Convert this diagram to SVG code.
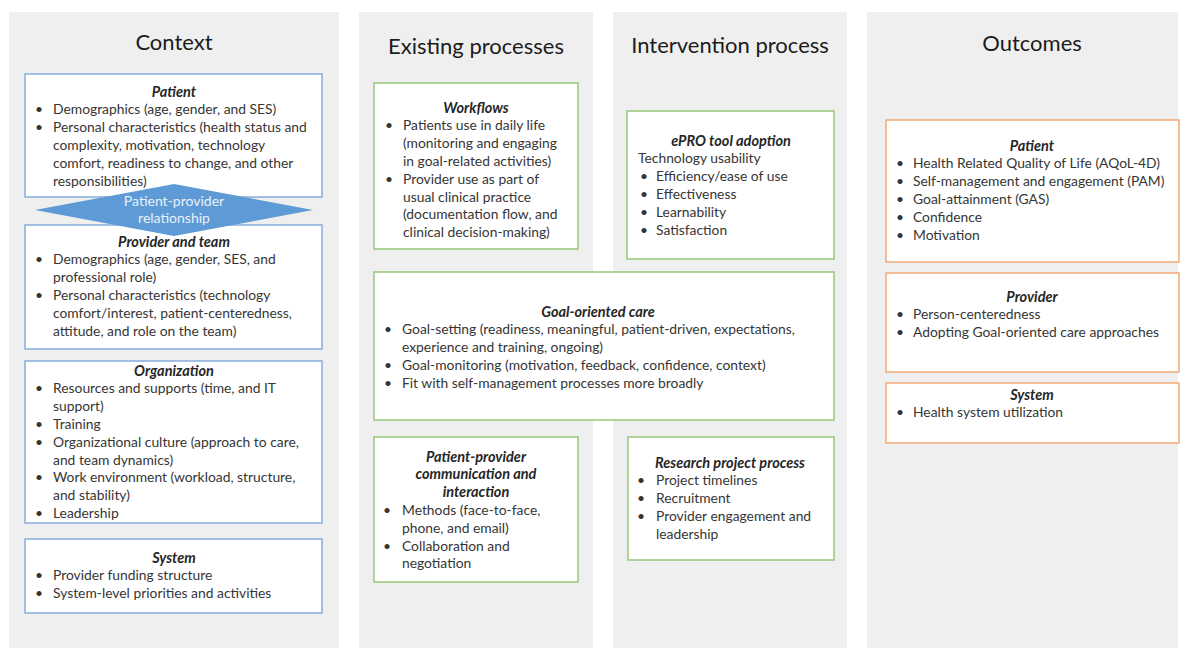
<svg xmlns="http://www.w3.org/2000/svg" width="1182" height="648" viewBox="0 0 1182 648">
  <style>
    .panel { fill: #efefef; }
    .box { fill: #ffffff; stroke-width: 1.4; }
    .blue { stroke: #7fa7dc; }
    .green { stroke: #92c473; }
    .orange { stroke: #f2a46c; }
    text { font-family: Lato, "Liberation Sans", sans-serif; }
    .hd { font-size: 22px; fill: #1c1c1c; text-anchor: middle; }
    .ttl { font-size: 14.5px; font-weight: bold; font-style: italic; fill: #262626; text-anchor: middle; }
    .tx { font-size: 13.85px; fill: #363636; }
    .dm { fill: #5e9bd6; }
    .dmt { font-size: 14px; fill: #e8f0fa; text-anchor: middle; }
  </style>

  <!-- column backgrounds -->
  <rect class="panel" x="9" y="12" width="330" height="636"/>
  <rect class="panel" x="359" y="12" width="234" height="636"/>
  <rect class="panel" x="613" y="12" width="234" height="636"/>
  <rect class="panel" x="867" y="12" width="311" height="636"/>

  <!-- column headings -->
  <text class="hd" x="174" y="50">Context</text>
  <text class="hd" x="476" y="54">Existing processes</text>
  <text class="hd" x="730" y="53">Intervention process</text>
  <text class="hd" x="1032" y="51">Outcomes</text>

  <!-- Context column -->
  <g id="ctx-patient">
    <rect class="box blue" x="25" y="74" width="297" height="123"/>
    <text class="ttl" x="174" y="96.5">Patient</text>
    <text class="tx" x="35" y="114.3">•</text>
    <text class="tx" x="53" y="114.3">Demographics (age, gender, and SES)</text>
    <text class="tx" x="35" y="132.1">•</text>
    <text class="tx" x="53" y="132.1">Personal characteristics (health status and</text>
    <text class="tx" x="53" y="149.9">complexity, motivation, technology</text>
    <text class="tx" x="53" y="167.7">comfort, readiness to change, and other</text>
    <text class="tx" x="53" y="185.5">responsibilities)</text>
  </g>

  <g id="ctx-provider">
    <rect class="box blue" x="25" y="225" width="297" height="124"/>
    <text class="ttl" x="174" y="246.5">Provider and team</text>
    <text class="tx" x="35" y="264.3">•</text>
    <text class="tx" x="53" y="264.3">Demographics (age, gender, SES, and</text>
    <text class="tx" x="53" y="282.1">professional role)</text>
    <text class="tx" x="35" y="299.9">•</text>
    <text class="tx" x="53" y="299.9">Personal characteristics (technology</text>
    <text class="tx" x="53" y="317.7">comfort/interest, patient-centeredness,</text>
    <text class="tx" x="53" y="335.5">attitude, and role on the team)</text>
  </g>

  <g id="ctx-relationship">
    <polygon class="dm" points="35,210 174,184 313,210 174,236"/>
    <text class="dmt" x="174" y="206">Patient-provider</text>
    <text class="dmt" x="174" y="223">relationship</text>
  </g>

  <g id="ctx-organization">
    <rect class="box blue" x="25" y="361" width="297" height="162"/>
    <text class="ttl" x="174" y="375.5">Organization</text>
    <text class="tx" x="35" y="393.3">•</text>
    <text class="tx" x="53" y="393.3">Resources and supports (time, and IT</text>
    <text class="tx" x="53" y="411.1">support)</text>
    <text class="tx" x="35" y="428.9">•</text>
    <text class="tx" x="53" y="428.9">Training</text>
    <text class="tx" x="35" y="446.7">•</text>
    <text class="tx" x="53" y="446.7">Organizational culture (approach to care,</text>
    <text class="tx" x="53" y="464.5">and team dynamics)</text>
    <text class="tx" x="35" y="482.3">•</text>
    <text class="tx" x="53" y="482.3">Work environment (workload, structure,</text>
    <text class="tx" x="53" y="500.1">and stability)</text>
    <text class="tx" x="35" y="517.9">•</text>
    <text class="tx" x="53" y="517.9">Leadership</text>
  </g>

  <g id="ctx-system">
    <rect class="box blue" x="25" y="539" width="297" height="74"/>
    <text class="ttl" x="174" y="562.5">System</text>
    <text class="tx" x="35" y="580.3">•</text>
    <text class="tx" x="53" y="580.3">Provider funding structure</text>
    <text class="tx" x="35" y="598.1">•</text>
    <text class="tx" x="53" y="598.1">System-level priorities and activities</text>
  </g>

  <!-- Existing processes column -->
  <g id="ex-workflows">
    <rect class="box green" x="374" y="83" width="204" height="166"/>
    <text class="ttl" x="476" y="112.5">Workflows</text>
    <text class="tx" x="385" y="130.3">•</text>
    <text class="tx" x="403" y="130.3">Patients use in daily life</text>
    <text class="tx" x="403" y="148.1">(monitoring and engaging</text>
    <text class="tx" x="403" y="165.9">in goal-related activities)</text>
    <text class="tx" x="385" y="183.7">•</text>
    <text class="tx" x="403" y="183.7">Provider use as part of</text>
    <text class="tx" x="403" y="201.5">usual clinical practice</text>
    <text class="tx" x="403" y="219.3">(documentation flow, and</text>
    <text class="tx" x="403" y="237.1">clinical decision-making)</text>
  </g>

  <g id="goal-oriented-care">
    <rect class="box green" x="374" y="272" width="460" height="148"/>
    <text class="ttl" x="598" y="316.5">Goal-oriented care</text>
    <text class="tx" x="384" y="334.3">•</text>
    <text class="tx" x="402" y="334.3">Goal-setting (readiness, meaningful, patient-driven, expectations,</text>
    <text class="tx" x="402" y="352.1">experience and training, ongoing)</text>
    <text class="tx" x="384" y="369.9">•</text>
    <text class="tx" x="402" y="369.9">Goal-monitoring (motivation, feedback, confidence, context)</text>
    <text class="tx" x="384" y="387.7">•</text>
    <text class="tx" x="402" y="387.7">Fit with self-management processes more broadly</text>
  </g>

  <g id="ex-communication">
    <rect class="box green" x="374" y="437" width="204" height="145"/>
    <text class="ttl" x="476" y="461.5">Patient-provider</text>
    <text class="ttl" x="476" y="479.3">communication and</text>
    <text class="ttl" x="476" y="497.1">interaction</text>
    <text class="tx" x="383" y="514.9">•</text>
    <text class="tx" x="402" y="514.9">Methods (face-to-face,</text>
    <text class="tx" x="402" y="532.7">phone, and email)</text>
    <text class="tx" x="383" y="550.5">•</text>
    <text class="tx" x="402" y="550.5">Collaboration and</text>
    <text class="tx" x="402" y="568.3">negotiation</text>
  </g>

  <!-- Intervention process column -->
  <g id="int-epro">
    <rect class="box green" x="627" y="111" width="207" height="148"/>
    <text class="ttl" x="731" y="145.5">ePRO tool adoption</text>
    <text class="tx" x="638" y="163.3">Technology usability</text>
    <text class="tx" x="640" y="181.1">•</text>
    <text class="tx" x="656" y="181.1">Efficiency/ease of use</text>
    <text class="tx" x="640" y="198.9">•</text>
    <text class="tx" x="656" y="198.9">Effectiveness</text>
    <text class="tx" x="640" y="216.7">•</text>
    <text class="tx" x="656" y="216.7">Learnability</text>
    <text class="tx" x="640" y="234.5">•</text>
    <text class="tx" x="656" y="234.5">Satisfaction</text>
  </g>

  <g id="int-research">
    <rect class="box green" x="628" y="437" width="206" height="123"/>
    <text class="ttl" x="730" y="467.5">Research project process</text>
    <text class="tx" x="637" y="485.3">•</text>
    <text class="tx" x="656" y="485.3">Project timelines</text>
    <text class="tx" x="637" y="503.1">•</text>
    <text class="tx" x="656" y="503.1">Recruitment</text>
    <text class="tx" x="637" y="520.9">•</text>
    <text class="tx" x="656" y="520.9">Provider engagement and</text>
    <text class="tx" x="656" y="538.7">leadership</text>
  </g>

  <!-- Outcomes column -->
  <g id="out-patient">
    <rect class="box orange" x="886" y="120" width="293" height="142"/>
    <text class="ttl" x="1032" y="150.5">Patient</text>
    <text class="tx" x="896" y="168.3">•</text>
    <text class="tx" x="913" y="168.3">Health Related Quality of Life (AQoL-4D)</text>
    <text class="tx" x="896" y="186.1">•</text>
    <text class="tx" x="913" y="186.1">Self-management and engagement (PAM)</text>
    <text class="tx" x="896" y="203.9">•</text>
    <text class="tx" x="913" y="203.9">Goal-attainment (GAS)</text>
    <text class="tx" x="896" y="221.7">•</text>
    <text class="tx" x="913" y="221.7">Confidence</text>
    <text class="tx" x="896" y="239.5">•</text>
    <text class="tx" x="913" y="239.5">Motivation</text>
  </g>

  <g id="out-provider">
    <rect class="box orange" x="886" y="273" width="293" height="99"/>
    <text class="ttl" x="1032" y="301.5">Provider</text>
    <text class="tx" x="896" y="319.3">•</text>
    <text class="tx" x="913" y="319.3">Person-centeredness</text>
    <text class="tx" x="896" y="337.1">•</text>
    <text class="tx" x="913" y="337.1">Adopting Goal-oriented care approaches</text>
  </g>

  <g id="out-system">
    <rect class="box orange" x="886" y="383" width="293" height="60"/>
    <text class="ttl" x="1032" y="399.5">System</text>
    <text class="tx" x="896" y="417.3">•</text>
    <text class="tx" x="913" y="417.3">Health system utilization</text>
  </g>
</svg>
